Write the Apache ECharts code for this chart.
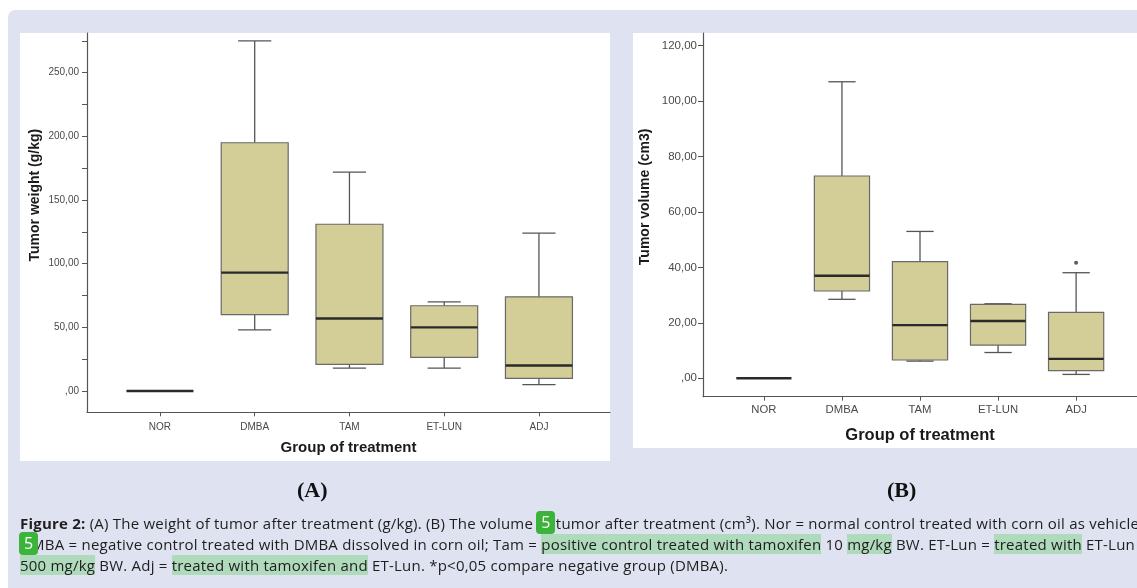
<!DOCTYPE html>
<html>
<head>
<meta charset="utf-8">
<script src="https://cdn.jsdelivr.net/npm/echarts@6/dist/echarts.min.js"></script>
<style>
html,body{margin:0;padding:0;width:1137px;height:588px;overflow:hidden;background:#ffffff;}
#bg{position:absolute;left:8px;top:10px;width:1150px;height:600px;background:#dfe2f0;border-radius:7px;}
#pA{position:absolute;left:20px;top:33px;width:590px;height:428px;background:#ffffff;}
#pB{position:absolute;left:633px;top:33px;width:530px;height:415px;background:#ffffff;}
#chart{position:absolute;left:0;top:0;width:1137px;height:588px;}
#cap{position:absolute;left:20px;top:513px;width:1400px;font-family:'Open Sans',sans-serif;font-size:15px;line-height:21px;color:#1e1e1e;white-space:nowrap;letter-spacing:0.22px;}
#cap b{font-weight:700;}
.hl{background:#b0dabc;}
.bw{position:relative;}
.badge{position:absolute;left:-1px;top:-2px;width:19px;height:23px;background:#3cb43c;border-radius:4px;color:#ffffff;font-size:16px;line-height:23px;text-align:center;letter-spacing:0;}
</style>
</head>
<body>
<div id="bg"></div>
<div id="pA"></div>
<div id="pB"></div>
<div id="chart"></div>
<div id="cap">
<b>Figure 2:</b> (A) The weight of tumor after treatment (g/kg). (B) The volume <span class="bw">of<span class="badge">5</span></span> tumor after treatment (cm³). Nor = normal control treated with corn oil as vehicle.<br>
<span class="bw">D<span class="badge">5</span></span>MBA = negative control treated with DMBA dissolved in corn oil; Tam = <span class="hl">positive control treated with tamoxifen</span> 10 <span class="hl">mg/kg</span> BW. ET-Lun = <span class="hl">treated with</span> ET-Lun<br>
<span class="hl">500 mg/kg</span> BW. Adj = <span class="hl">treated with tamoxifen and</span> ET-Lun. *p&lt;0,05 compare negative group (DMBA).
</div>
<script>
// ---- data ----
const categories = ['NOR', 'DMBA', 'TAM', 'ET-LUN', 'ADJ'];
// (A) Tumor weight (g/kg)
const weightMin    = [0, 48, 18, 18, 5];
const weightQ1     = [0, 60, 21, 26.5, 10];
const weightMedian = [0, 93, 57, 50, 20];
const weightQ3     = [0, 195, 131, 67, 74];
const weightMax    = [0, 275, 172, 70, 124];
// (B) Tumor volume (cm3)
const volumeMin    = [0, 28.5, 6.2, 9.3, 1.4];
const volumeQ1     = [0, 31.5, 6.6, 12, 2.8];
const volumeMedian = [0, 37, 19.2, 20.7, 7];
const volumeQ3     = [0, 73, 42.1, 26.7, 23.8];
const volumeMax    = [0, 107, 53, 26.9, 38.1];
const volumeOutlierGroup = ['ADJ'];
const volumeOutlierValue = [41.7];
// tick labels
const weightTickLabels = [0, 50, 100, 150, 200, 250];
const weightTickMarks  = [0, 25, 50, 75, 100, 125, 150, 175, 200, 225, 250, 275];
const volumeTickLabels = [0, 20, 40, 60, 80, 100, 120];

// ---- build ----
const catIdx = categories.map((c, i) => i);
function boxData(mn, q1, md, q3, mx) {
  return categories.map((c, i) => [i, mn[i], q1[i], md[i], q3[i], mx[i]]);
}
const weightData = boxData(weightMin, weightQ1, weightMedian, weightQ3, weightMax);
const volumeData = boxData(volumeMin, volumeQ1, volumeMedian, volumeQ3, volumeMax);
const outlierData = volumeOutlierGroup.map((g, i) => [categories.indexOf(g), volumeOutlierValue[i]]);

const FONT = 'Liberation Sans';
const numFmt = v => (v === 0 ? ',00' : v.toFixed(2).replace('.', ','));

function renderBox(params, api) {
  const x = api.value(0);
  const unit = api.size([1, 0])[0];
  const bw = unit * 0.707;
  const cw = unit * 0.35;
  const pMin = api.coord([x, api.value(1)]);
  const pQ1 = api.coord([x, api.value(2)]);
  const pMed = api.coord([x, api.value(3)]);
  const pQ3 = api.coord([x, api.value(4)]);
  const pMax = api.coord([x, api.value(5)]);
  const cx = pMed[0];
  const ws = { stroke: '#555555', lineWidth: 1.3 };
  const children = [];
  if (pQ1[1] - pQ3[1] > 0.5) {
    children.push(
      { type: 'line', shape: { x1: cx, y1: pQ3[1], x2: cx, y2: pMax[1] }, style: ws },
      { type: 'line', shape: { x1: cx, y1: pQ1[1], x2: cx, y2: pMin[1] }, style: ws },
      { type: 'line', shape: { x1: cx - cw / 2, y1: pMax[1], x2: cx + cw / 2, y2: pMax[1] }, style: ws },
      { type: 'line', shape: { x1: cx - cw / 2, y1: pMin[1], x2: cx + cw / 2, y2: pMin[1] }, style: ws },
      { type: 'rect', shape: { x: cx - bw / 2, y: pQ3[1], width: bw, height: pQ1[1] - pQ3[1] },
        style: { fill: '#d3cd97', stroke: '#6a6a6a', lineWidth: 1.2 } }
    );
  }
  children.push({ type: 'line', shape: { x1: cx - bw / 2, y1: pMed[1], x2: cx + bw / 2, y2: pMed[1] },
    style: { stroke: '#2a2a2a', lineWidth: 2.4 } });
  return { type: 'group', children };
}

function xAxisCfg(gridIndex, min, max, fs, margin, nameGap, nameFs) {
  return {
    type: 'value', gridIndex, min, max,
    splitLine: { show: false },
    axisLine: { show: true, onZero: false, lineStyle: { color: '#555555', width: 1.2 } },
    axisTick: { show: true, customValues: catIdx, length: 4, lineStyle: { color: '#555555' } },
    axisLabel: { customValues: catIdx, formatter: v => categories[Math.round(v)] || '',
      fontSize: fs, color: '#4a4a4a', margin, fontFamily: FONT },
    name: 'Group of treatment', nameLocation: 'middle', nameGap,
    nameTextStyle: { fontWeight: 'bold', fontSize: nameFs, color: '#1a1a1a', fontFamily: FONT }
  };
}
function yAxisCfg(gridIndex, min, max, ticks, labels, fs, margin, name, nameGap, shift) {
  return {
    type: 'value', gridIndex, min, max,
    splitLine: { show: false },
    axisLine: { show: true, onZero: false, lineStyle: { color: '#555555', width: 1.2 } },
    axisTick: { show: true, customValues: ticks, length: 5, lineStyle: { color: '#555555' } },
    axisLabel: { customValues: labels, formatter: numFmt, fontSize: fs, color: '#4a4a4a', margin, fontFamily: FONT },
    name, nameLocation: 'middle', nameGap, nameRotate: 90,
    nameTextStyle: { fontWeight: 'bold', fontSize: 14, color: '#1a1a1a', fontFamily: FONT, padding: [0, 0, 0, shift] }
  };
}

const chart = echarts.init(document.getElementById('chart'), null, { renderer: 'canvas' });
chart.setOption({
  backgroundColor: 'transparent',
  animation: false,
  title: [
    { text: '(A)', left: 292, top: 475, textStyle: { fontFamily: 'Liberation Serif', fontWeight: 'bold', fontSize: 22, color: '#111111' } },
    { text: '(B)', left: 882, top: 475, textStyle: { fontFamily: 'Liberation Serif', fontWeight: 'bold', fontSize: 22, color: '#111111' } }
  ],
  grid: [
    { left: 87, right: 527, top: 33, bottom: 175.7 },
    { left: 703, right: -20, top: 33, bottom: 191.3 }
  ],
  xAxis: [
    xAxisCfg(0, -0.77, 4.75, 10, 10, 28, 15),
    xAxisCfg(1, -0.78, 4.78, 11.3, 8, 30, 16.5)
  ],
  yAxis: [
    yAxisCfg(0, -16.7, 281.2, weightTickMarks, weightTickLabels, 10, 8, 'Tumor weight (g/kg)', 45, 55),
    yAxisCfg(1, -6.64, 124.6, volumeTickLabels, volumeTickLabels, 11.5, 6, 'Tumor volume (cm3)', 51, 36)
  ],
  series: [
    { type: 'custom', xAxisIndex: 0, yAxisIndex: 0, data: weightData, renderItem: renderBox,
      encode: { x: 0, y: [1, 2, 3, 4, 5] } },
    { type: 'custom', xAxisIndex: 1, yAxisIndex: 1, data: volumeData, renderItem: renderBox,
      encode: { x: 0, y: [1, 2, 3, 4, 5] } },
    { type: 'scatter', xAxisIndex: 1, yAxisIndex: 1, data: outlierData, symbol: 'circle', symbolSize: 4,
      itemStyle: { color: '#333333' } }
  ]
});
</script>
</body>
</html>
